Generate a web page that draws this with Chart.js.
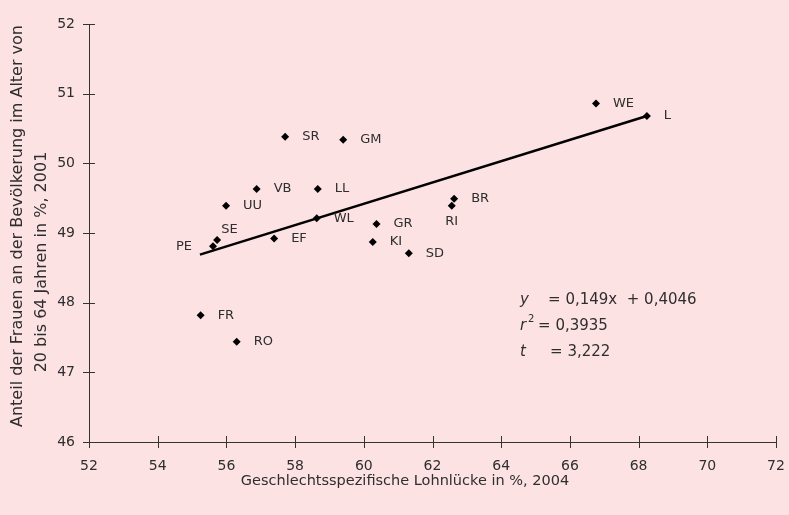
<!DOCTYPE html>
<html>
<head>
<meta charset="utf-8">
<script src="https://cdn.jsdelivr.net/npm/chart.js@4/dist/chart.umd.min.js"></script>
<style>
  html, body { margin: 0; padding: 0; background: #FDE2E4; }
  #wrap { width: 789px; height: 515px; position: relative; }
</style>
</head>
<body>
<div id="wrap"><canvas id="c" width="789" height="515"></canvas></div>
<script>
// ---- data ----
const regions = ["WE","L","SR","GM","VB","LL","UU","WL","SE","PE","EF","GR","KI","BR","RI","SD","FR","RO"];
const wageGap = [66.76,68.24,57.71,59.40,56.88,58.66,55.99,58.63,55.73,55.61,57.39,60.37,60.26,62.63,62.56,61.31,55.25,56.30];
const womenShare = [50.86,50.68,50.38,50.34,49.63,49.63,49.39,49.21,48.90,48.81,48.92,49.13,48.87,49.49,49.39,48.71,47.82,47.44];
const trendX = [55.23, 68.24];
const trendY = [48.69, 50.68];
const xTicks = [52,54,56,58,60,62,64,66,68,70,72];
const yTicks = [46,47,48,49,50,51,52];
const xTitle = "Geschlechtsspezifische Lohnlücke in %, 2004";
const yTitle = ["Anteil der Frauen an der Bevölkerung im Alter von", "20 bis 64 Jahren in %, 2001"];
const eqLines = [
  { name: "y", sup: "", rest: "= 0,149x  + 0,4046" },
  { name: "r", sup: "2", rest: "= 0,3935" },
  { name: "t", sup: "", rest: "= 3,222" }
];

// ---- styling ----
const FONT = "'DejaVu Sans', sans-serif";
const TXT = "#2e2e2e";
const labelPlace = { PE: "left", RI: "below", SE: "aboveRight", WL: "belowRight" };

const pointData = regions.map((r, i) => ({ x: wageGap[i], y: womenShare[i], label: r }));
const trendData = trendX.map((x, i) => ({ x: x, y: trendY[i] }));

const crossTicks = {
  id: 'crossTicks',
  afterDraw(chart) {
    const ctx = chart.ctx;
    const xs = chart.scales.x, ys = chart.scales.y;
    ctx.save();
    ctx.strokeStyle = '#333';
    ctx.lineWidth = 1;
    ctx.beginPath();
    xTicks.forEach(v => {
      const px = Math.round(xs.getPixelForValue(v)) + 0.5;
      const py = ys.bottom;
      ctx.moveTo(px, py - 6); ctx.lineTo(px, py + 6);
    });
    yTicks.forEach(v => {
      const py = Math.round(ys.getPixelForValue(v)) + 0.5;
      const px = xs.left;
      ctx.moveTo(px - 6, py); ctx.lineTo(px + 6, py);
    });
    ctx.stroke();

    // axis titles
    ctx.fillStyle = TXT;
    ctx.textAlign = 'center';
    ctx.textBaseline = 'middle';
    ctx.font = "14.5px " + FONT;
    ctx.fillText(xTitle, 405, 481);
    ctx.font = "16px " + FONT;
    const yCenters = [[18, 226], [42, 262]];
    yTitle.forEach((t, i) => {
      ctx.save();
      ctx.translate(yCenters[i][0], yCenters[i][1]);
      ctx.rotate(-Math.PI / 2);
      ctx.fillText(t, 0, 0);
      ctx.restore();
    });

    // point labels
    ctx.font = "13px " + FONT;
    const meta = chart.getDatasetMeta(0);
    meta.data.forEach((el, i) => {
      const lab = regions[i];
      const place = labelPlace[lab] || "right";
      let x = el.x, y = el.y;
      ctx.textBaseline = 'middle';
      if (place === "right") { ctx.textAlign = 'left'; x += 17; }
      else if (place === "left") { ctx.textAlign = 'right'; x -= 21; }
      else if (place === "below") { ctx.textAlign = 'center'; y += 16; }
      else if (place === "aboveRight") { ctx.textAlign = 'left'; x += 4; y -= 10; }
      else if (place === "belowRight") { ctx.textAlign = 'left'; x += 17; y += 0; }
      ctx.fillText(lab, x, y);
    });

    // equation block
    const ex = xs.getPixelForValue(64.55);
    let ey = ys.getPixelForValue(48.04);
    ctx.textAlign = 'left';
    ctx.textBaseline = 'middle';
    const restX = [28, 18, 30];
    eqLines.forEach((ln, i) => {
      ctx.font = "italic 15px " + FONT;
      ctx.fillText(ln.name, ex, ey);
      if (ln.sup) {
        ctx.font = "10px " + FONT;
        ctx.fillText(ln.sup, ex + 8, ey - 6);
      }
      ctx.font = "15px " + FONT;
      ctx.fillText(ln.rest, ex + restX[i], ey);
      ey += 26;
    });
    ctx.restore();
  }
};

const bg = {
  id: 'bg',
  beforeDraw(chart) {
    const ctx = chart.ctx;
    ctx.save();
    ctx.fillStyle = '#FDE2E4';
    ctx.fillRect(0, 0, chart.width, chart.height);
    ctx.restore();
  }
};

new Chart(document.getElementById('c'), {
  type: 'scatter',
  data: {
    datasets: [
      {
        data: pointData,
        pointStyle: 'rectRot',
        pointRadius: 4,
        pointBackgroundColor: '#000',
        pointBorderColor: '#000',
        pointBorderWidth: 0,
        showLine: false
      },
      {
        type: 'line',
        data: trendData,
        borderColor: '#000',
        borderWidth: 2.5,
        pointRadius: 0,
        fill: false
      }
    ]
  },
  options: {
    responsive: false,
    animation: false,
    devicePixelRatio: 1,
    layout: { padding: { top: 24, right: 13, left: 0, bottom: 0 } },
    plugins: { legend: { display: false }, tooltip: { enabled: false } },
    scales: {
      x: {
        type: 'linear',
        min: 52, max: 72,
        afterBuildTicks(s) { s.ticks = xTicks.map(v => ({ value: v })); },
        afterFit(s) { s.height = 73; s.paddingLeft = 0; s.paddingRight = 0; },
        grid: { display: false, drawOnChartArea: false },
        border: { display: true, color: '#333', width: 1 },
        ticks: { color: TXT, font: { family: FONT, size: 14 }, padding: 8, maxRotation: 0 },
        title: { display: false }
      },
      y: {
        type: 'linear',
        min: 46, max: 52,
        afterBuildTicks(s) { s.ticks = yTicks.map(v => ({ value: v })); },
        afterFit(s) { s.width = 89; s.paddingTop = 0; s.paddingBottom = 0; },
        grid: { display: false, drawOnChartArea: false },
        border: { display: true, color: '#333', width: 1 },
        ticks: { color: TXT, font: { family: FONT, size: 14 }, padding: 6 },
        title: { display: false }
      }
    }
  },
  plugins: [bg, crossTicks]
});
</script>
</body>
</html>
